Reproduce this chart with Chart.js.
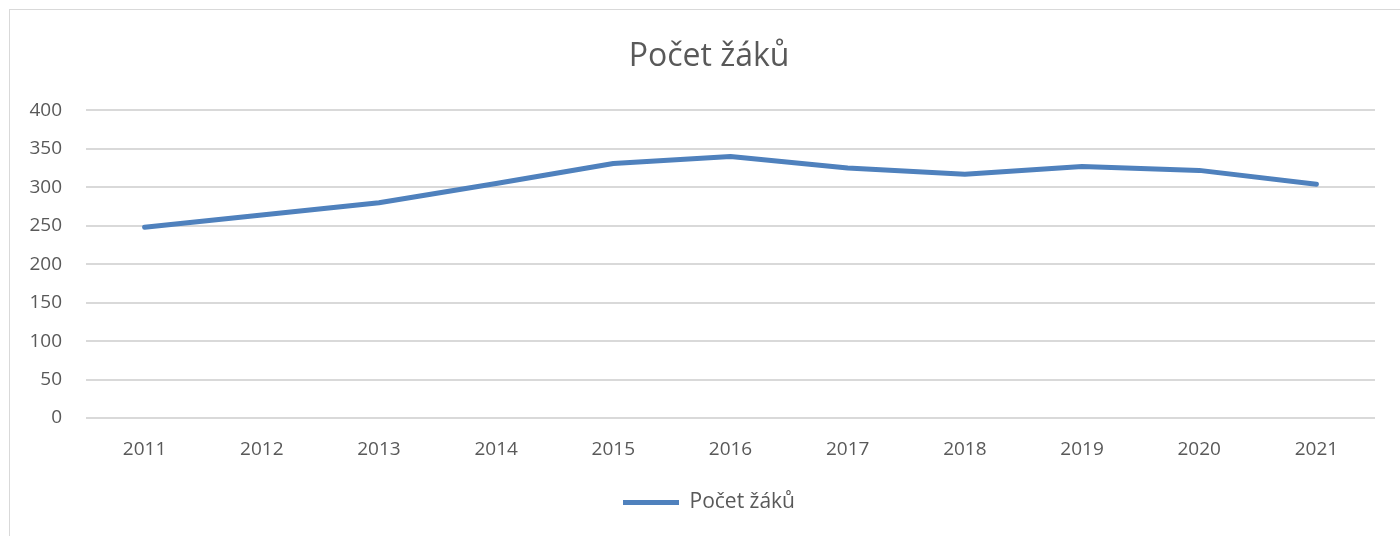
<!DOCTYPE html>
<html>
<head>
<meta charset="utf-8">
<script src="https://cdn.jsdelivr.net/npm/chart.js@4.4.1/dist/chart.umd.min.js"></script>
<style>
    html, body { margin: 0; padding: 0; background: #fff; overflow: hidden; }
    #frame { position: absolute; left: 9px; top: 9px; width: 1400px; height: 540px; border: 1px solid #d9d9d9; }
    #wrap { position: absolute; left: 9px; top: 0; width: 1400px; height: 536px; }
</style>
</head>
<body>
<div id="frame"></div>
<div id="wrap"><canvas id="pupilsChart"></canvas></div>
<script>
const years = ['2011', '2012', '2013', '2014', '2015', '2016', '2017', '2018', '2019', '2020', '2021'];
const pupils = [248, 264, 280, 305, 331, 340, 325, 317, 327, 322, 304];
const yTicks = [0, 50, 100, 150, 200, 250, 300, 350, 400];

const textColor = '#595959';
const font = 'Open Sans';

document.addEventListener('DOMContentLoaded', function() {
    const ctx = document.getElementById('pupilsChart').getContext('2d');
    const pupilsChart = new Chart(ctx, {
        type: 'line',
        data: {
            labels: years,
            datasets: [{
                label: 'Počet žáků',
                data: pupils,
                borderColor: '#4f81bd',
                backgroundColor: '#4f81bd',
                borderWidth: 5,
                borderCapStyle: 'round',
                borderJoinStyle: 'round',
                pointRadius: 0,
                tension: 0
            }]
        },
        options: {
            responsive: true,
            maintainAspectRatio: false,
            animation: false,
            layout: { padding: { left: 0, right: 0, top: 9, bottom: 13 } },
            plugins: {
                title: {
                    display: true,
                    text: 'Počet žáků',
                    color: textColor,
                    font: { family: font, size: 32, weight: 'normal' },
                    padding: { top: 29, bottom: 34 }
                },
                legend: {
                    position: 'bottom',
                    labels: {
                        color: textColor,
                        font: { family: font, size: 21 },
                        usePointStyle: true,
                        pointStyle: 'line',
                        pointStyleWidth: 56,
                        boxHeight: 21,
                        padding: 10
                    }
                },
                tooltip: { enabled: false }
            },
            scales: {
                x: {
                    offset: true,
                    grid: { display: false, drawTicks: false },
                    border: { display: false },
                    ticks: {
                        color: textColor,
                        font: { family: font, size: 19 },
                        padding: 20,
                        maxRotation: 0
                    },
                    afterFit: function(scale) { scale.height = 64; }
                },
                y: {
                    min: 0,
                    max: 400,
                    afterBuildTicks: function(scale) {
                        scale.ticks = yTicks.map(v => ({ value: v }));
                    },
                    grid: { color: '#d9d9d9', lineWidth: 2, drawTicks: false },
                    border: { display: false },
                    ticks: {
                        color: textColor,
                        font: { family: font, size: 19 },
                        padding: 24
                    },
                    afterFit: function(scale) { scale.width = 77; }
                },
                // empty right axis: only reserves the blank margin right of the plot
                yRight: {
                    position: 'right',
                    grid: { display: false, drawTicks: false },
                    border: { display: false },
                    ticks: { display: false },
                    afterFit: function(scale) { scale.width = 34; }
                }
            }
        }
    });
});
</script>
</body>
</html>
